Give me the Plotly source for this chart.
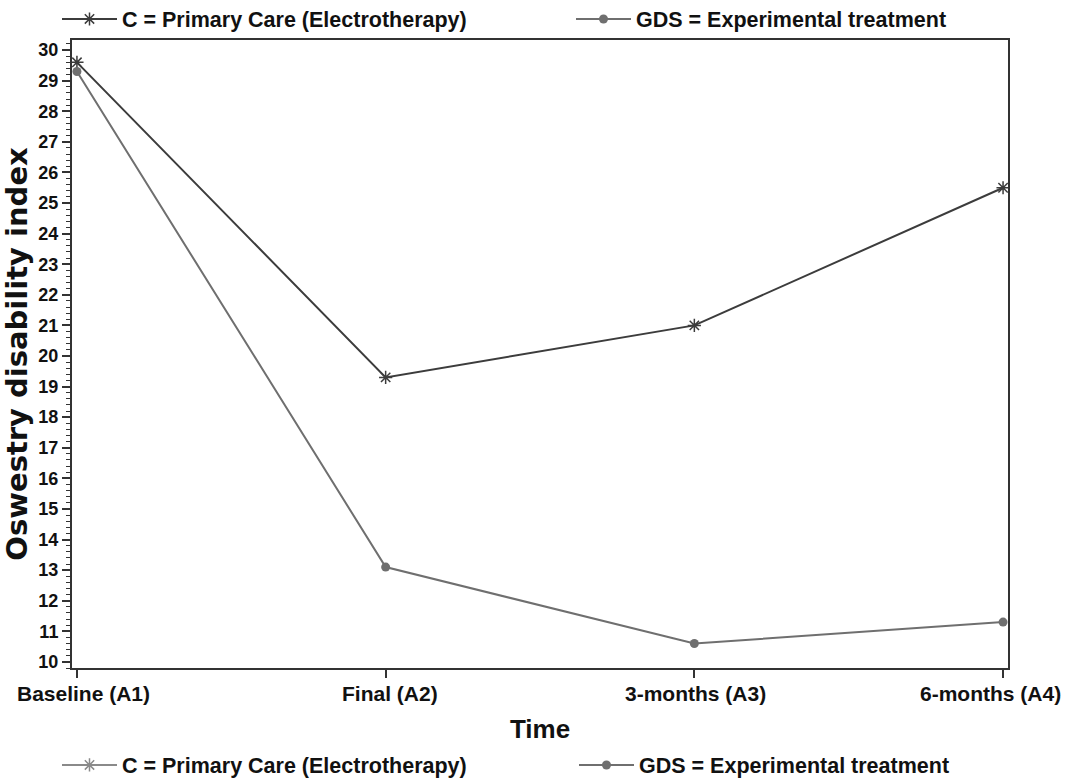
import plotly.graph_objects as go

categories = ["Baseline (A1)", "Final (A2)", "3-months (A3)", "6-months (A4)"]
c_values = [29.6, 19.3, 21.0, 25.5]
gds_values = [29.3, 13.1, 10.6, 11.3]
y_ticks = list(range(10, 31))

c_name = "C = Primary Care (Electrotherapy)"
gds_name = "GDS = Experimental treatment"

c_col = "#3c3c3c"
g_col = "#6f6f6f"
FONT = "Liberation Sans, Arial, sans-serif"

fig = go.Figure()
fig.add_trace(go.Scatter(x=categories, y=c_values, mode="lines+markers", name=c_name,
                         line=dict(color=c_col, width=2),
                         marker=dict(symbol="asterisk-open", size=11, color=c_col, line=dict(width=1.5, color=c_col)),
                         legend="legend"))
fig.add_trace(go.Scatter(x=categories, y=gds_values, mode="lines+markers", name=gds_name,
                         line=dict(color=g_col, width=2),
                         marker=dict(symbol="circle", size=9, color=g_col),
                         legend="legend2"))
# same series listed again in the bottom legend
fig.add_trace(go.Scatter(x=[None], y=[None], mode="lines+markers", name=c_name,
                         line=dict(color="#8a8a8a", width=2),
                         marker=dict(symbol="asterisk-open", size=11, color="#8a8a8a", line=dict(width=1.5, color="#8a8a8a")),
                         legend="legend3"))
fig.add_trace(go.Scatter(x=[None], y=[None], mode="lines+markers", name=gds_name,
                         line=dict(color=g_col, width=2),
                         marker=dict(symbol="circle", size=9, color=g_col),
                         legend="legend4"))

legend_common = dict(orientation="h", xanchor="left", yanchor="middle",
                     xref="container", yref="container",
                     font=dict(family=FONT, size=21.5, color="#111", weight="bold"),
                     itemwidth=55, bgcolor="rgba(0,0,0,0)")

# x-axis category labels, nudged to stay inside the page like the original
label_shift = [7, 4, 1, -13]

fig.update_layout(
    width=1068, height=781,
    margin=dict(l=72, r=60, t=40, b=113, autoexpand=False),
    paper_bgcolor="white", plot_bgcolor="white",
    showlegend=True,
    legend=dict(x=57 / 1068, y=1 - 19 / 781, **legend_common),
    legend2=dict(x=571 / 1068, y=1 - 19 / 781, **legend_common),
    legend3=dict(x=57 / 1068, y=1 - 765 / 781, **legend_common),
    legend4=dict(x=574 / 1068, y=1 - 765 / 781, **legend_common),
    font=dict(family=FONT, color="#111"),
)

for cat, sh in zip(categories, label_shift):
    fig.add_annotation(x=cat, y=0, xref="x", yref="paper", yanchor="top", xanchor="center",
                       text="<b>" + cat + "</b>", showarrow=False, xshift=sh, yshift=-12,
                       font=dict(family=FONT, size=21, color="#111"))

fig.update_xaxes(
    type="category", range=[-0.016, 3.016],
    showline=True, linecolor="#333", linewidth=2, mirror=True,
    ticks="outside", ticklen=8, tickwidth=2, tickcolor="#333",
    showticklabels=False, automargin=True,
    showgrid=False, zeroline=False,
    title=dict(text="<b>Time</b>", font=dict(family=FONT, size=26, color="#111"), standoff=52),
)
fig.update_yaxes(
    range=[9.8, 30.33], automargin=True,
    tickvals=y_ticks, ticktext=[str(v) for v in y_ticks],
    showline=True, linecolor="#333", linewidth=2, mirror=True,
    ticks="outside", ticklen=8, tickwidth=1.5, tickcolor="#333",
    minor=dict(dtick=0.2, ticks="outside", ticklen=4, tickwidth=1, tickcolor="#333"),
    showgrid=False, zeroline=False,
    tickfont=dict(family=FONT, size=18, color="#111", weight="bold"),
    title=dict(text="<b>Oswestry disability index</b>",
               font=dict(family="DejaVu Sans, Liberation Sans, sans-serif", size=29, color="#111"), standoff=2),
)

fig.write_html("out.html")
